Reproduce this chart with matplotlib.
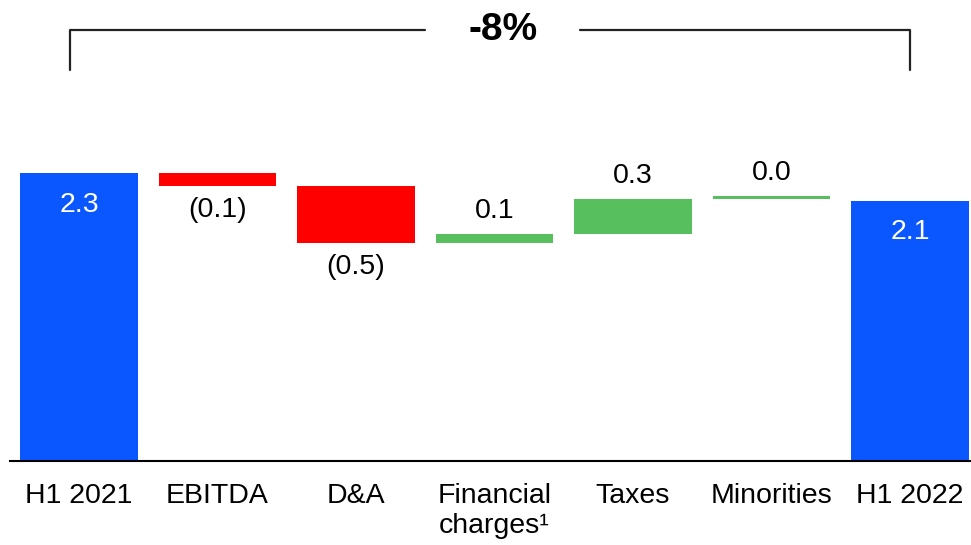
import matplotlib.pyplot as plt

categories = ['H1 2021', 'EBITDA', 'D&A', 'Financial\ncharges\u00b9', 'Taxes', 'Minorities', 'H1 2022']
start_value = 2.30
deltas = [-0.10, -0.46, 0.07, 0.28, 0.03]
end_value = 2.08
value_labels = ['2.3', '(0.1)', '(0.5)', '0.1', '0.3', '0.0', '2.1']
change_label = '-8%'

blue = '#0A57FF'
red = '#FF0000'
green = '#57BF5E'

plt.rcParams['font.family'] = ['Liberation Sans', 'DejaVu Sans']


def main():
    fig = plt.figure(figsize=(9.71, 5.45), dpi=100)
    ax = fig.add_axes([10 / 971, 84 / 545, 961 / 971, 461 / 545])
    px = 125.2  # pixels per unit on y
    ax.set_xlim(-0.498, 6.44)
    ax.set_ylim(0, 461 / px)
    w = 0.85
    fs = 20.5

    # start bar
    ax.bar(0, start_value, width=w, color=blue)
    ax.text(0, start_value - 32 / px, value_labels[0], ha='center', va='center',
            color='white', fontsize=fs)

    level = start_value
    for i, d in enumerate(deltas, start=1):
        color = green if d >= 0 else red
        bottom = level if d >= 0 else level + d
        ax.bar(i, abs(d), bottom=bottom, width=w, color=color)
        if d >= 0:
            ax.text(i, level + d + 23 / px, value_labels[i], ha='center', va='center', fontsize=fs)
        else:
            ax.text(i, level + d - 24 / px, value_labels[i], ha='center', va='center', fontsize=fs)
        level += d

    # end bar
    ax.bar(6, end_value, width=w, color=blue)
    ax.text(6, end_value - 31 / px, value_labels[6], ha='center', va='center',
            color='white', fontsize=fs)

    # bracket with change label
    y_top = 431 / px
    y_low = 391 / px
    xl, xr = -0.065, 6.0
    lk = dict(color='#222222', lw=1.6, solid_capstyle='round', solid_joinstyle='round')
    ax.plot([xl, xl, 2.5], [y_low, y_top, y_top], **lk)
    ax.plot([3.62, xr, xr], [y_top, y_top, y_low], **lk)
    ax.text(3.06, y_top, change_label, ha='center', va='center', fontsize=28,
            fontweight='bold')

    for s in ['top', 'right', 'left']:
        ax.spines[s].set_visible(False)
    ax.spines['bottom'].set_linewidth(1.5)
    ax.set_yticks([])
    ax.set_xticks(range(len(categories)))
    ax.set_xticklabels(categories, fontsize=fs, linespacing=1.2)
    ax.tick_params(axis='x', length=0, pad=16)

    fig.savefig('out.png', dpi=100)


if __name__ == '__main__':
    main()
